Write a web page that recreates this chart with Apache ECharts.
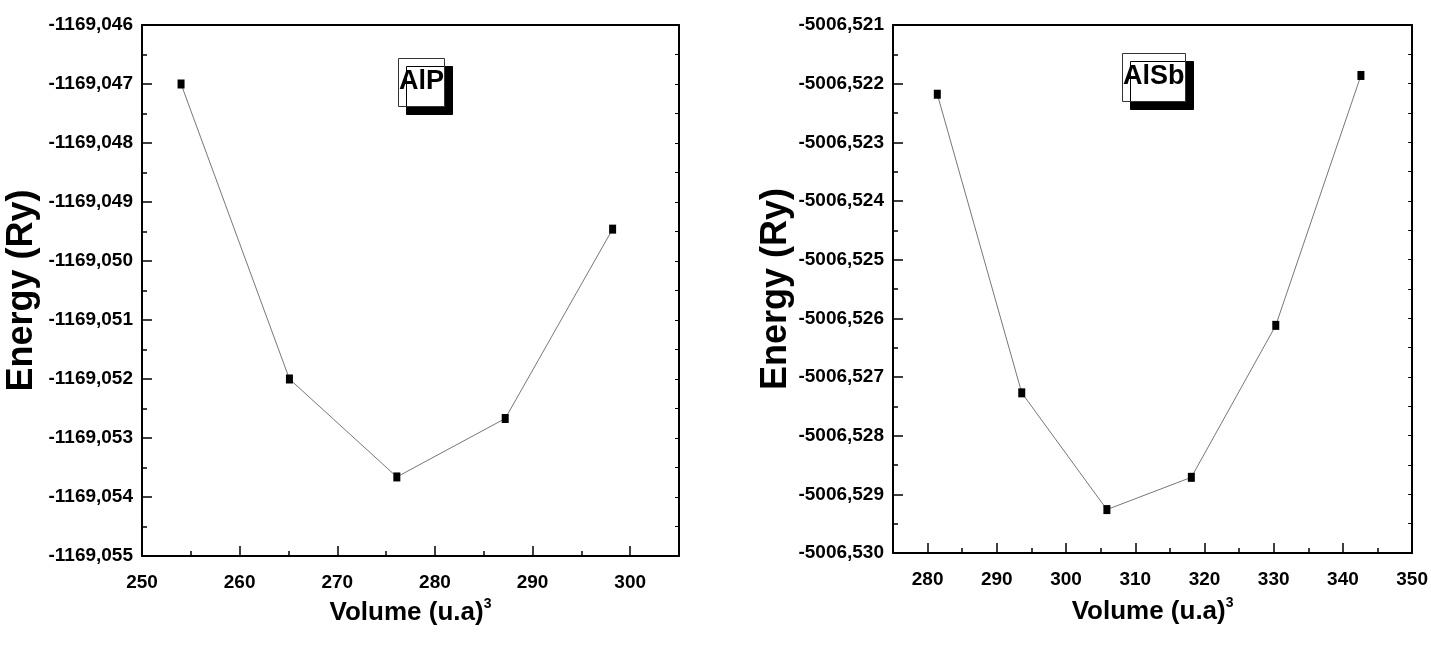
<!DOCTYPE html>
<html>
<head>
<meta charset="utf-8">
<script src="https://cdn.jsdelivr.net/npm/echarts@6/dist/echarts.min.js"></script>
<style>
html,body{margin:0;padding:0;background:#fff;}
#c{width:1431px;height:651px;}
</style>
</head>
<body>
<div id="c"></div>
<script>
// ---- data ----
const volAlP = [254.0, 265.1, 276.1, 287.2, 298.2];
const energyAlP = [-1169.04700, -1169.05200, -1169.05366, -1169.05267, -1169.04946];
const volAlSb = [281.4, 293.6, 305.9, 318.1, 330.3, 342.6];
const energyAlSb = [-5006.52218, -5006.52727, -5006.52926, -5006.52871, -5006.52612, -5006.52186];

// ---- ticks ----
const xMajorAlP = [250, 260, 270, 280, 290, 300];
const xMinorAlP = [255, 265, 275, 285, 295];
const yMajorAlP = [-1169.055, -1169.054, -1169.053, -1169.052, -1169.051, -1169.050, -1169.049, -1169.048, -1169.047, -1169.046];
const yMinorAlP = [-1169.0545, -1169.0535, -1169.0525, -1169.0515, -1169.0505, -1169.0495, -1169.0485, -1169.0475, -1169.0465];
const xMajorAlSb = [280, 290, 300, 310, 320, 330, 340, 350];
const xMinorAlSb = [285, 295, 305, 315, 325, 335, 345];
const yMajorAlSb = [-5006.530, -5006.529, -5006.528, -5006.527, -5006.526, -5006.525, -5006.524, -5006.523, -5006.522, -5006.521];
const yMinorAlSb = [-5006.5295, -5006.5285, -5006.5275, -5006.5265, -5006.5255, -5006.5245, -5006.5235, -5006.5225, -5006.5215];

const titles = ['AlP', 'AlSb'];
const xName = 'Volume (u.a)';
const yName = 'Energy (Ry)';

const FONT = '"Liberation Sans", Arial, sans-serif';

function fmtY(v) { return v.toFixed(3).replace('.', ','); }

function axesFor(gi, xr, yr, xMaj, xMin, yMaj, yMin, nameGapX, nameGapY) {
  const xs = [
    { // main bottom axis
      type: 'value', gridIndex: gi, position: 'bottom', min: xr[0], max: xr[1],
      name: '{a|' + xName + '}{s|3}', nameLocation: 'middle', nameGap: nameGapX,
      nameTextStyle: { rich: {
        a: { fontSize: 26, fontWeight: 'bold', fontFamily: FONT, color: '#000', lineHeight: 32 },
        s: { fontSize: 14, fontWeight: 'bold', fontFamily: FONT, color: '#000', verticalAlign: 'top', lineHeight: 12 }
      } },
      axisLine: { show: true, onZero: false, lineStyle: { color: '#000', width: 2 } },
      axisTick: { show: true, inside: true, length: 10, customValues: xMaj, lineStyle: { color: '#000', width: 1.5 } },
      axisLabel: { show: true, customValues: xMaj, margin: 17, fontSize: 19, fontWeight: 'bold', fontFamily: FONT, color: '#000' },
      splitLine: { show: false }
    },
    { // minor ticks
      type: 'value', gridIndex: gi, position: 'bottom', min: xr[0], max: xr[1],
      axisLine: { show: false, onZero: false },
      axisTick: { show: true, inside: true, length: 5, customValues: xMin, lineStyle: { color: '#000', width: 1.5 } },
      axisLabel: { show: false }, splitLine: { show: false }
    },
    { // top frame
      type: 'value', gridIndex: gi, position: 'top', min: xr[0], max: xr[1],
      axisLine: { show: true, onZero: false, lineStyle: { color: '#000', width: 2 } },
      axisTick: { show: false }, axisLabel: { show: false }, splitLine: { show: false }
    }
  ];
  const ys = [
    {
      type: 'value', gridIndex: gi, position: 'left', min: yr[0], max: yr[1],
      name: yName, nameLocation: 'middle', nameGap: nameGapY,
      nameTextStyle: { fontSize: 36, fontWeight: 'bold', fontFamily: FONT, color: '#000' },
      axisLine: { show: true, onZero: false, lineStyle: { color: '#000', width: 2 } },
      axisTick: { show: true, inside: true, length: 10, customValues: yMaj, lineStyle: { color: '#000', width: 1.5 } },
      axisLabel: { show: true, customValues: yMaj, margin: 9, fontSize: 19, fontWeight: 'bold', fontFamily: FONT, color: '#000', formatter: fmtY },
      splitLine: { show: false }
    },
    {
      type: 'value', gridIndex: gi, position: 'left', min: yr[0], max: yr[1],
      axisLine: { show: false, onZero: false },
      axisTick: { show: true, inside: true, length: 5, customValues: yMin, lineStyle: { color: '#000', width: 1.5 } },
      axisLabel: { show: false }, splitLine: { show: false }
    },
    {
      type: 'value', gridIndex: gi, position: 'right', min: yr[0], max: yr[1],
      axisLine: { show: true, onZero: false, lineStyle: { color: '#000', width: 2 } },
      axisTick: { show: true, inside: true, length: 4, customValues: yMaj.concat(yMin), lineStyle: { color: '#000', width: 1 } },
      axisLabel: { show: false }, splitLine: { show: false }
    }
  ];
  return { xs, ys };
}

const a1 = axesFor(0, [250, 305], [-1169.055, -1169.046], xMajorAlP, xMinorAlP, yMajorAlP, yMinorAlP, 40, 102);
const a2 = axesFor(1, [275, 350], [-5006.530, -5006.521], xMajorAlSb, xMinorAlSb, yMajorAlSb, yMinorAlSb, 43, 96);

function titleBox(text, left, top, padH) {
  return {
    text: text, left: left, top: top, padding: [8, padH, 9, padH],
    textStyle: { fontSize: 27, fontWeight: 'bold', fontFamily: FONT, color: '#000', lineHeight: 32 },
    backgroundColor: '#fff', borderColor: '#333', borderWidth: 1,
    shadowColor: '#000', shadowBlur: 0, shadowOffsetX: 8, shadowOffsetY: 8
  };
}

const option = {
  backgroundColor: '#fff',
  animation: false,
  title: [titleBox(titles[0], 398, 58, 1), titleBox(titles[1], 1122, 53, 1)],
  grid: [
    { left: 142, right: 752, top: 25, bottom: 95, containLabel: false },
    { left: 893, right: 18, top: 25, bottom: 98, containLabel: false }
  ],
  xAxis: a1.xs.concat(a2.xs),
  yAxis: a1.ys.concat(a2.ys),
  series: [
    {
      type: 'line', xAxisIndex: 0, yAxisIndex: 0,
      data: volAlP.map((v, i) => [v, energyAlP[i]]),
      symbol: 'rect', symbolSize: [7, 9],
      itemStyle: { color: '#000' },
      lineStyle: { color: '#777', width: 1 }
    },
    {
      type: 'line', xAxisIndex: 3, yAxisIndex: 3,
      data: volAlSb.map((v, i) => [v, energyAlSb[i]]),
      symbol: 'rect', symbolSize: [7, 9],
      itemStyle: { color: '#000' },
      lineStyle: { color: '#777', width: 1 }
    }
  ]
};

const chart = echarts.init(document.getElementById('c'), null, { renderer: 'canvas' });
chart.setOption(option);
</script>
</body>
</html>
